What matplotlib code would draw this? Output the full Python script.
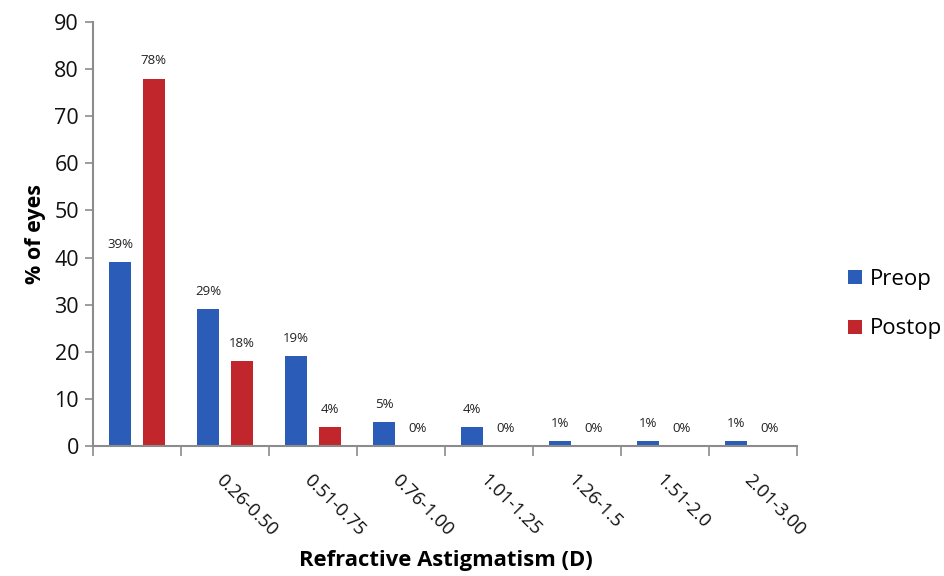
import numpy as np
import matplotlib.pyplot as plt

# Astigmatism ranges (first bin has no printed label)
categories = ['', '0.26-0.50', '0.51-0.75', '0.76-1.00', '1.01-1.25',
              '1.26-1.5', '1.51-2.0', '2.01-3.00']
preop = [39, 29, 19, 5, 4, 1, 1, 1]
postop = [78, 18, 4, 0, 0, 0, 0, 0]

blue = '#2b5cb7'
red = '#c0262b'
axis_grey = '#8c8c8c'

plt.rcParams['font.family'] = ['Open Sans', 'DejaVu Sans']

fig = plt.figure(figsize=(9.44, 5.76), dpi=100)
ax = fig.add_axes([0.0985, 0.2257, 0.7455, 0.7361])

x = np.arange(len(categories))
w = 0.25
off = 0.19
b1 = ax.bar(x - off, preop, width=w, color=blue, label='Preop')
b2 = ax.bar(x + off, postop, width=w, color=red, label='Postop')

# percentage labels above each bar
for bars, vals in ((b1, preop), (b2, postop)):
    for rect, v in zip(bars, vals):
        ax.annotate(f'{v}%', (rect.get_x() + rect.get_width() / 2, v),
                    xytext=(0, 8), textcoords='offset points',
                    ha='center', va='bottom', fontsize=9.5, color='#222222')

ax.set_xlim(-0.5, len(categories) - 0.5)
ax.set_ylim(0, 90)
ax.set_yticks(range(0, 91, 10))
ax.tick_params(axis='y', labelsize=15.5, length=6, color=axis_grey, width=1.2,
               pad=4, labelcolor='#111111')

ax.set_xticks(x)
ax.set_xticklabels(categories, rotation=-45, ha='left', va='top',
                   rotation_mode='anchor', fontsize=13.2, color='#111111')
ax.tick_params(axis='x', which='major', length=0, pad=18)
ax.set_xticks(np.arange(-0.5, len(categories)), minor=True)
ax.tick_params(axis='x', which='minor', length=7, color=axis_grey, width=1.2)

for side in ('top', 'right'):
    ax.spines[side].set_visible(False)
for side in ('left', 'bottom'):
    ax.spines[side].set_color(axis_grey)
    ax.spines[side].set_linewidth(1.5)

ax.set_ylabel('% of eyes', fontsize=15.5, fontweight='bold', labelpad=6)
fig.text(0.472, 0.008, 'Refractive Astigmatism (D)', fontsize=15.8,
         fontweight='bold', ha='center', va='bottom')

ax.legend(loc='center left', bbox_to_anchor=(1.045, 0.335), frameon=False,
          fontsize=16, handlelength=0.6, handleheight=0.6, handletextpad=0.35,
          labelspacing=1.3)

fig.savefig('out.png', dpi=100)
